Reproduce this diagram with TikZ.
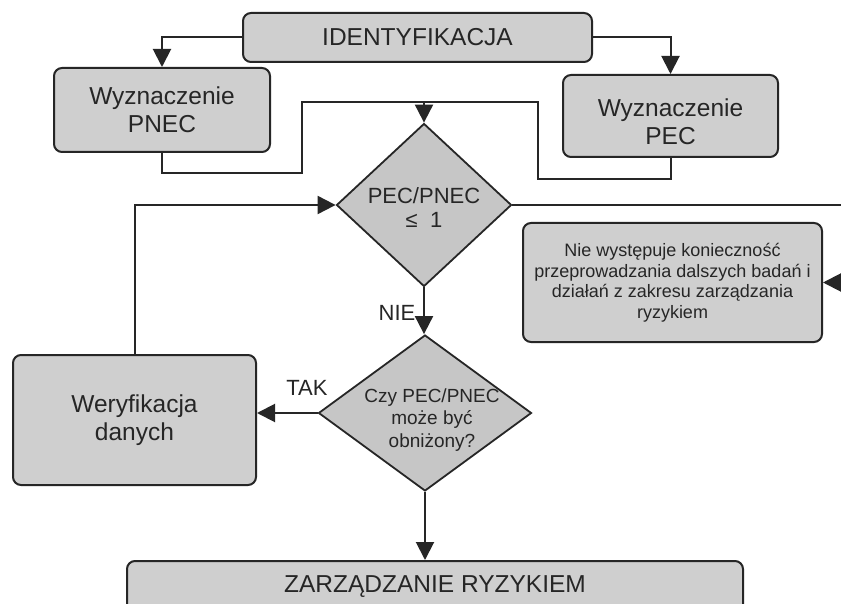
\documentclass[tikz,border=0pt]{standalone}
\usepackage{fontspec}
\setmainfont{Liberation Sans}
\usetikzlibrary{shapes.geometric,arrows.meta}
\definecolor{boxfill}{HTML}{CFCFCF}
\definecolor{dfill}{HTML}{C6C6C6}
\definecolor{ink}{HTML}{262626}
\begin{document}
\begin{tikzpicture}[x=1pt,y=-1pt,
  box/.style={draw=ink,line width=2pt,fill=boxfill,rounded corners=8pt,inner sep=0pt,text=ink,align=center},
  dia/.style={draw=ink,line width=1.8pt,fill=dfill,diamond,inner sep=0pt,aspect=1},
  lab/.style={text=ink,align=center,inner sep=0pt},
  conn/.style={draw=ink,line width=2pt},
  arr/.style={conn,-{Triangle[length=18pt,width=18pt]}},
  big/.style={font=\fontsize{24.5}{28}\selectfont}]
\useasboundingbox (0,0) rectangle (841,604);
\clip (0,0) rectangle (841,604);
\fill[white] (0,0) rectangle (841,604);

% nodes
\node[box,big,minimum width=349pt,minimum height=49pt] (ident) at (417.5,37.5) {IDENTYFIKACJA};
\node[box,big,minimum width=216pt,minimum height=84pt] (pnec) at (162,110) {Wyznaczenie\\PNEC};
\node[box,minimum width=215pt,minimum height=82pt,
      label={[lab,big,yshift=-6pt]center:Wyznaczenie\\PEC}] (pec) at (670.5,116) {};
\node[dia,minimum width=175pt,minimum height=163pt] (d1) at (424,205) {};
\node[lab,font=\fontsize{22}{24}\selectfont] (d1t) at (424,208) {PEC/PNEC\\≤\ \ 1};
\node[box,font=\fontsize{18}{20.5}\selectfont,minimum width=299pt,minimum height=119pt] (nie) at (672.5,282.5)
  {Nie występuje konieczność\\przeprowadzania dalszych badań i\\działań z zakresu zarządzania\\ryzykiem};
\node[dia,minimum width=213pt,minimum height=156pt] (d2) at (425,413) {};
\node[lab,font=\fontsize{19}{22.5}\selectfont] (d2t) at (432,420) {Czy PEC/PNEC\\może być\\obniżony?};
\node[box,big,minimum width=243pt,minimum height=130pt] (wer) at (134.5,420) {Weryfikacja\\danych};
\node[box,big,minimum width=616pt,minimum height=52pt] (zarz) at (435,587) {ZARZĄDZANIE RYZYKIEM};

% labels
\node[lab,font=\fontsize{22}{24}\selectfont] (nielbl) at (397,313) {NIE};
\node[lab,font=\fontsize{22}{24}\selectfont] (taklbl) at (307,388) {TAK};

% connectors
\coordinate (j) at (424,102);
\coordinate (jl) at (302,102);
\coordinate (jr) at (538,102);
\coordinate (rx) at (850,205);
\draw[arr] (ident.west) -| (pnec.north);
\draw[arr] (ident.east) -| (pec.north);
\draw[conn] (pnec.south) -- ++(0,20) -| (jl) -- (j);
\draw[conn] (pec.south) -- ++(0,21) -| (jr) -- (j);
\draw[arr] (j) -- (d1.north);
\draw[arr] (d1.east) -- (rx) |- (nie.east);
\draw[arr] (d1.south) -- (d1.south |- d2.north);
\draw[arr] (d2.west) -- (d2.west -| wer.east);
\draw[arr] (wer.north) |- (d1.west);
\draw[arr] (d2.south) -- (d2.south |- zarz.north);
\end{tikzpicture}
\end{document}
